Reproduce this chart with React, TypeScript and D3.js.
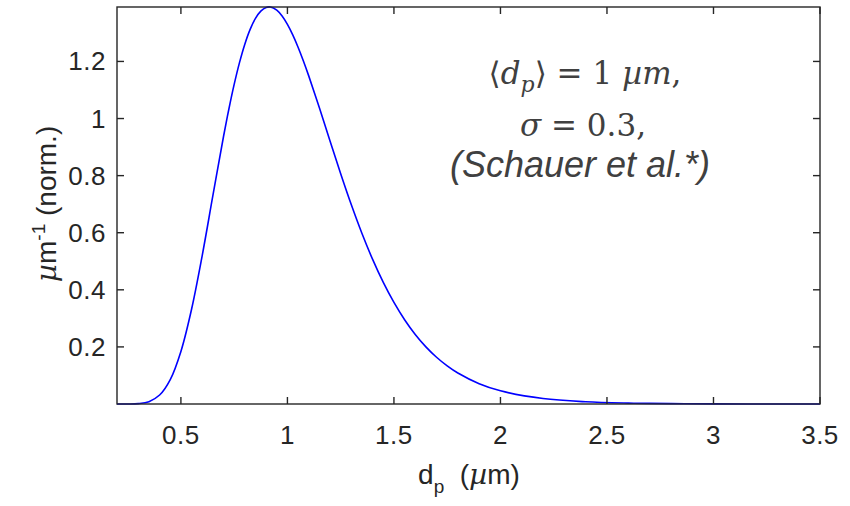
import React from "react";
import * as d3 from "d3";

// Particle diameter (µm) and normalised size distribution (µm⁻¹)
const diameters = [
  0.2, 0.25, 0.3, 0.35, 0.4, 0.45, 0.5, 0.55, 0.6, 0.65, 0.7, 0.725, 0.75, 0.775, 0.8,
  0.825, 0.85, 0.875, 0.9, 0.92, 0.95, 0.975, 1.0, 1.025, 1.05, 1.075, 1.1, 1.15, 1.2,
  1.25, 1.3, 1.35, 1.4, 1.45, 1.5, 1.55, 1.6, 1.65, 1.7, 1.75, 1.8, 1.9, 2.0, 2.2, 2.4,
  2.6, 2.8, 3.0, 3.25, 3.5,
];
const density = [
  0.0, 0.0001, 0.0014, 0.0083, 0.0314, 0.0856, 0.1843, 0.332, 0.5201, 0.7296, 0.937,
  1.0326, 1.1196, 1.196, 1.2606, 1.3124, 1.351, 1.3764, 1.3892, 1.3907, 1.3795, 1.3591,
  1.3298, 1.293, 1.2498, 1.2016, 1.1494, 1.0374, 0.9213, 0.8067, 0.6978, 0.5973, 0.5064,
  0.4259, 0.3557, 0.2952, 0.2436, 0.2001, 0.1637, 0.1334, 0.1084, 0.071, 0.0461, 0.0191,
  0.0078, 0.0032, 0.0013, 0.0005, 0.0002, 0.0001,
];

const xTicks = [0.5, 1, 1.5, 2, 2.5, 3, 3.5];
const yTicks = [0.2, 0.4, 0.6, 0.8, 1, 1.2];
const xDomain = [0.2, 3.5];
const yDomain = [0, 1.3907];

const W = 850;
const H = 506;
const box = { left: 117, right: 820, top: 7, bottom: 404 };
const axisColor = "#262626";
const textColor = "#404040";
const sans = "'Liberation Sans', Arial, sans-serif";
const serif = "'DejaVu Serif', serif";

export default function App() {
  const x = d3.scaleLinear().domain(xDomain).range([box.left, box.right]);
  const y = d3.scaleLinear().domain(yDomain).range([box.bottom, box.top]);
  const points = diameters.map((d, i) => [d, density[i]] as [number, number]);
  const line = d3
    .line<[number, number]>()
    .x((p) => x(p[0]))
    .y((p) => y(p[1]))
    .curve(d3.curveCatmullRom.alpha(0.5));
  const tickLen = 7;

  return (
    <svg width={W} height={H} style={{ position: "absolute", left: 0, top: 0, background: "#fff" }}>
      <rect x={0} y={0} width={W} height={H} fill="#fff" />
      {/* data curve */}
      <path d={line(points) ?? ""} fill="none" stroke="#0000ff" strokeWidth={1.6} />
      {/* axes box */}
      <rect
        x={box.left}
        y={box.top}
        width={box.right - box.left}
        height={box.bottom - box.top}
        fill="none"
        stroke={axisColor}
        strokeWidth={1.4}
      />
      {xTicks.map((t) => (
        <g key={"x" + t}>
          <line x1={x(t)} x2={x(t)} y1={box.bottom} y2={box.bottom - tickLen} stroke={axisColor} strokeWidth={1.4} />
          <line x1={x(t)} x2={x(t)} y1={box.top} y2={box.top + tickLen} stroke={axisColor} strokeWidth={1.4} />
          <text
            x={x(t)}
            y={444}
            textAnchor="middle"
            fontFamily={sans}
            fontSize={26}
            letterSpacing={0.5}
            fill={axisColor}
          >
            {t}
          </text>
        </g>
      ))}
      {yTicks.map((t) => (
        <g key={"y" + t}>
          <line x1={box.left} x2={box.left + tickLen} y1={y(t)} y2={y(t)} stroke={axisColor} strokeWidth={1.4} />
          <line x1={box.right} x2={box.right - tickLen} y1={y(t)} y2={y(t)} stroke={axisColor} strokeWidth={1.4} />
          <text
            x={106}
            y={y(t) + 9}
            textAnchor="end"
            fontFamily={sans}
            fontSize={26}
            letterSpacing={0.5}
            fill={axisColor}
          >
            {t}
          </text>
        </g>
      ))}
      {/* x axis title */}
      <text x={469} y={484} textAnchor="middle" fontFamily={sans} fontSize={28} fill={axisColor}>
        d<tspan dy={9} fontSize={19}>p</tspan>
        <tspan dy={-9}>{"\u00a0\u00a0("}</tspan>
        <tspan fontFamily={serif} fontStyle="italic">µ</tspan>
        <tspan>m)</tspan>
      </text>
      {/* y axis title */}
      <text
        transform={`translate(56, 204) rotate(-90)`}
        textAnchor="middle"
        fontFamily={sans}
        fontSize={28}
        fill={axisColor}
      >
        <tspan fontFamily={serif} fontStyle="italic">µ</tspan>
        <tspan>m</tspan>
        <tspan dy={-11} fontSize={19}>-1</tspan>
        <tspan dy={11}>{"\u00a0(norm.)"}</tspan>
      </text>
      {/* annotation */}
      <text x={585} y={84} textAnchor="middle" fontFamily={serif} fontSize={31} fill={textColor}>
        <tspan>⟨</tspan>
        <tspan fontStyle="italic">d</tspan>
        <tspan dy={8} fontSize={22} fontStyle="italic">p</tspan>
        <tspan dy={-8}>⟩ = 1 </tspan>
        <tspan fontStyle="italic">µm</tspan>
        <tspan>,</tspan>
      </text>
      <text x={583} y={136} textAnchor="middle" fontFamily={serif} fontSize={31} fill={textColor}>
        <tspan fontStyle="italic">σ</tspan>
        <tspan>{"\u00a0= 0.3,"}</tspan>
      </text>
      <text
        x={580}
        y={177}
        textAnchor="middle"
        fontFamily={sans}
        fontStyle="italic"
        fontSize={36}
        fill={textColor}
      >
        (Schauer et al.*)
      </text>
    </svg>
  );
}
